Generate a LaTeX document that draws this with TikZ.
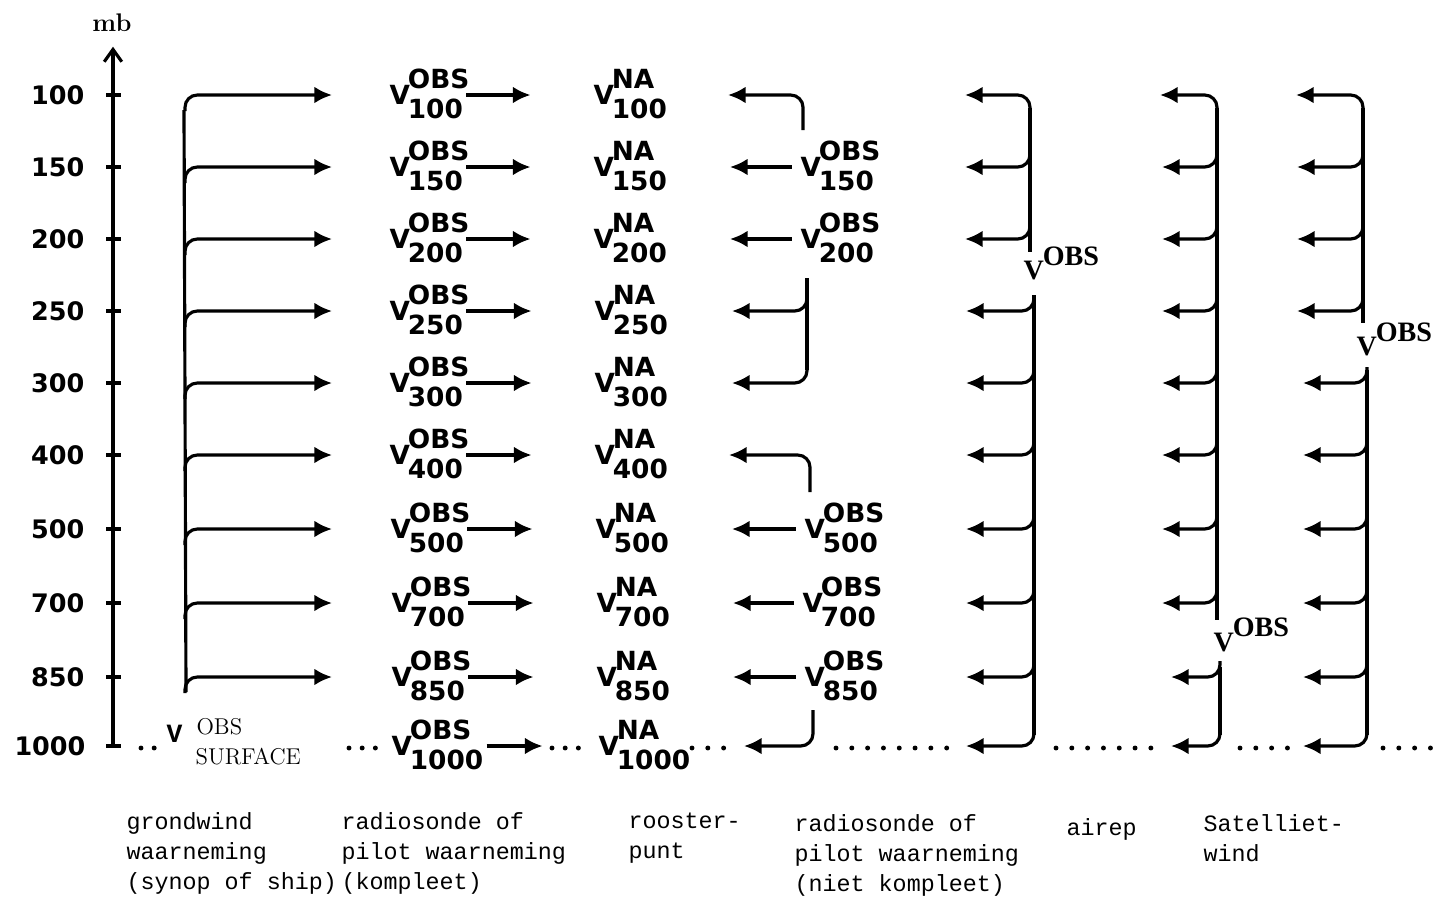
\documentclass[tikz,border=0pt]{standalone}
\usepackage{fontspec}
\usepackage{tikz}
\usetikzlibrary{arrows.meta, positioning, calc}
\newfontfamily\sansbold{DejaVu Sans}
\newfontfamily\typewriter{Liberation Mono}
\newfontfamily\serifbold{Liberation Serif}
% V with super- and subscript, smashed so the node is only as high as the V
\newcommand{\vsym}[2]{V\kern-0.08em\smash{\rlap{\raisebox{0.6em}{#1}}\raisebox{-0.52em}{#2}}}
\newcommand{\vobs}{V\kern-0.04em\smash{\raisebox{0.5em}{OBS}}}

\begin{document}
\begin{tikzpicture}[
		x=0.02cm, y=-0.02cm,
		line width=1.8pt,
		arr/.style={-{Latex[length=10pt,width=9.5pt]}, rounded corners=7pt},
		toNA/.style={arr, shorten <=1pt, shorten >=35pt},
		fromOBS/.style={arr, shorten <=4pt, shorten >=35pt},
		vlab/.style={anchor=west, inner sep=0pt, font=\sansbold\bfseries\fontsize{15}{18}\selectfont},
		olab/.style={anchor=west, inner sep=0pt, font=\serifbold\bfseries\fontsize{16}{19}\selectfont},
		axlab/.style={anchor=east, inner sep=0pt, font=\sansbold\bfseries\fontsize{14.5}{16}\selectfont},
		caption/.style={anchor=north west, inner sep=0pt, align=left, font=\typewriter\fontsize{13.3}{17}\selectfont, execute at begin node=\strut},
		dotrow/.style={line width=2.8pt, line cap=round, dash pattern=on 0pt off #1},
		dotrow/.default=9pt
		]
		\useasboundingbox (0,0) rectangle (1447,900);
		
		% Pressure axis
		\node[inner sep=0pt, anchor=base, font=\bfseries\fontsize{14.5}{17}\selectfont] (mb) at (112,31) {mb};
		\coordinate (ax0) at (113,746);
		\draw[-{Straight Barb[length=7pt,width=10pt]}] (ax0) -- ($(mb.south)+(1,14)$);
		\foreach \y in {95,167,239,311,383,455,529,603,677,746} \draw (106,\y) -- (121,\y);
		\node[axlab] (m100) at (86,95) {100};
		\node[axlab] (m150) at (86,167) {150};
		\node[axlab] (m200) at (86,239) {200};
		\node[axlab] (m250) at (86,311) {250};
		\node[axlab] (m300) at (86,383) {300};
		\node[axlab] (m400) at (86,455) {400};
		\node[axlab] (m500) at (86,529) {500};
		\node[axlab] (m700) at (86,603) {700};
		\node[axlab] (m850) at (86,677) {850};
		\node[axlab] (m1000) at (87,746) {1000};
		
		% Surface observation
		\draw (184,110) -- (186,692);
		\foreach \y in {95,167,239,311,383,455,529,603,677} \draw[arr] (185,\y+16) -- (185,\y) -- (332,\y);
		\node[anchor=base west, inner sep=0pt, font=\typewriter\bfseries\fontsize{15}{17}\selectfont] (vsurf) at (165,742) {V};
		\node[anchor=base west, inner sep=0pt, font=\fontsize{13}{15}\selectfont] (sobs) at (195,734) {OBS};
		\node[anchor=base west, inner sep=0pt, font=\fontsize{13}{15}\selectfont] (ssurf) at (194,764) {SURFACE};
		
		% Complete radiosonde / pilot
		\node[vlab] (o100) at (388,95) {\vsym{OBS}{100}};
		\node[vlab] (o150) at (388,167) {\vsym{OBS}{150}};
		\node[vlab] (o200) at (388,239) {\vsym{OBS}{200}};
		\node[vlab] (o250) at (388,311) {\vsym{OBS}{250}};
		\node[vlab] (o300) at (388,383) {\vsym{OBS}{300}};
		\node[vlab] (o400) at (388,455) {\vsym{OBS}{400}};
		\node[vlab] (o500) at (389,529) {\vsym{OBS}{500}};
		\node[vlab] (o700) at (390,603) {\vsym{OBS}{700}};
		\node[vlab] (o850) at (390,677) {\vsym{OBS}{850}};
		\node[vlab] (o1000) at (390,746) {\vsym{OBS}{1000}};
		
		% Grid point
		\node[vlab] (n100) at (592,95) {\vsym{NA}{100}};
		\node[vlab] (n150) at (592,167) {\vsym{NA}{150}};
		\node[vlab] (n200) at (592,239) {\vsym{NA}{200}};
		\node[vlab] (n250) at (593,311) {\vsym{NA}{250}};
		\node[vlab] (n300) at (593,383) {\vsym{NA}{300}};
		\node[vlab] (n400) at (593,455) {\vsym{NA}{400}};
		\node[vlab] (n500) at (594,529) {\vsym{NA}{500}};
		\node[vlab] (n700) at (595,603) {\vsym{NA}{700}};
		\node[vlab] (n850) at (595,677) {\vsym{NA}{850}};
		\node[vlab] (n1000) at (597,746) {\vsym{NA}{1000}};
		
		\draw[toNA] (o100) -- (n100);
		\draw[toNA] (o150) -- (n150);
		\draw[toNA] (o200) -- (n200);
		\draw[toNA] (o250) -- (n250);
		\draw[toNA] (o300) -- (n300);
		\draw[toNA] (o400) -- (n400);
		\draw[toNA] (o500) -- (n500);
		\draw[toNA] (o700) -- (n700);
		\draw[toNA] (o850) -- (n850);
		\draw[toNA, shorten >=31pt] (o1000) -- (n1000);
		
		% Incomplete radiosonde / pilot
		\node[vlab] (r150) at (799,167) {\vsym{OBS}{150}};
		\node[vlab] (r200) at (799,239) {\vsym{OBS}{200}};
		\node[vlab] (r500) at (803,529) {\vsym{OBS}{500}};
		\node[vlab] (r700) at (801,603) {\vsym{OBS}{700}};
		\node[vlab] (r850) at (803,677) {\vsym{OBS}{850}};
		\draw[fromOBS] (r150) -- (n150);
		\draw[fromOBS] (r200) -- (n200);
		\draw[fromOBS] (r500) -- (n500);
		\draw[fromOBS] (r700) -- (n700);
		\draw[fromOBS] (r850) -- (n850);
		\draw[arr] (803,130) -- (803,95) -- (728,95);
		\draw (807,278) -- (807,370);
		\draw[arr] (807,295) -- (807,311) -- (732,311);
		\draw[arr] (807,367) -- (807,383) -- (732,383);
		\draw[arr] (810,492) -- (810,455) -- (729,455);
		\draw[arr] (813,710) -- (813,746) -- (744,746);
		
		% Airep
		\draw (1030,108) -- (1030,252);
		\draw[arr] (1030,112) -- (1030,95) -- (965,95);
		\foreach \y in {167,239} \draw[arr] (1030,\y-16) -- (1030,\y) -- (965,\y);
		\node[olab] (vair) at (1022,271) {\vobs};
		\draw (1034,295) -- (1034,735);
		\foreach \y in {311,383,455,529,603,677,746} \draw[arr] (1034,\y-16) -- (1034,\y) -- (966,\y);
		
		% Satellite wind
		\draw (1217,108) -- (1217,620);
		\draw[arr] (1217,112) -- (1217,95) -- (1160,95);
		\foreach \y in {167,239,311,383,455,529,603} \draw[arr] (1217,\y-16) -- (1217,\y) -- (1162,\y);
		\node[olab] (vsatA) at (1212,642) {\vobs};
		\draw (1220,667) -- (1220,735);
		\foreach \y in {677,746} \draw[arr] (1220,\y-16) -- (1220,\y) -- (1171,\y);
		
		\draw (1363,108) -- (1363,323);
		\draw[arr] (1363,112) -- (1363,95) -- (1296,95);
		\foreach \y in {167,239,311} \draw[arr] (1363,\y-16) -- (1363,\y) -- (1297,\y);
		\node[olab] (vsatB) at (1355,347) {\vobs};
		\draw (1367,370) -- (1367,735);
		\foreach \y in {383,455,529,603,677,746} \draw[arr] (1367,\y-16) -- (1367,\y) -- (1303,\y);
		
		% 1000 mb dotted row
		\draw[dotrow=7.5pt] (141,748) -- (155,748);
		\draw[dotrow=7.5pt] (349,748) -- (377,748);
		\draw[dotrow=7.5pt] (552,748) -- (580,748);
		\draw[dotrow] (692,748) -- (725,748);
		\draw[dotrow] (836,748) -- (948,748);
		\draw[dotrow] (1056,748) -- (1152,748);
		\draw[dotrow] (1240,748) -- (1289,748);
		\draw[dotrow] (1383,748) -- (1432,748);
		
		% Captions
		\node[caption] (capGrond) at (125,811) {grondwind\\waarneming\\(synop of ship)};
		\node[caption] (capSonde) at (340,811) {radiosonde of\\pilot waarneming\\(kompleet)};
		\node[caption] (capRooster) at (627,811) {rooster-\\punt};
		\node[caption] (capPilot) at (793,813) {radiosonde of\\pilot waarneming\\(niet kompleet)};
		\node[caption] (capAirep) at (1065,813) {airep};
		\node[caption] (capSat) at (1202,813) {Satelliet-\\wind};
	\end{tikzpicture}
\end{document}
